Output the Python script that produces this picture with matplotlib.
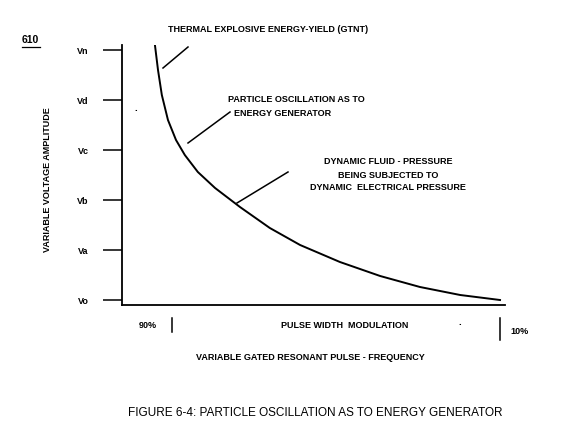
import matplotlib
matplotlib.use("Agg")
import matplotlib.pyplot as plt
from matplotlib.lines import Line2D

plt.rcParams['font.family'] = ['Liberation Sans', 'DejaVu Sans']

W, H = 583, 426

# y tick levels and names
level_values = [0, 1, 2, 3, 4, 5]
level_names = ['Vo', 'Va', 'Vb', 'Vc', 'Vd', 'Vn']

# curve (x: % along pulse axis, y: voltage level)
curve_x = [8.6, 9.4, 10.4, 12.0, 14.1, 16.4, 19.8, 24.3, 30.8, 38.6,
           46.5, 56.9, 67.4, 77.8, 88.3, 98.7]
curve_y = [5.1, 4.6, 4.1, 3.6, 3.2, 2.9, 2.56, 2.24, 1.86, 1.44,
           1.1, 0.76, 0.48, 0.26, 0.1, 0.0]


def fx(px):
    return px / W


def fy(py):
    return 1 - py / H


fig = plt.figure(figsize=(W / 100, H / 100), dpi=100)
ax = fig.add_axes([fx(122), fy(305), (505 - 122) / W, (305 - 45) / H])
ax.plot(curve_x, curve_y, color='black', lw=1.4)
ax.set_xlim(0, 100)
ax.set_ylim(-0.1, 5.1)
for s in ['top', 'right']:
    ax.spines[s].set_visible(False)
ax.spines['left'].set_linewidth(1.3)
ax.spines['bottom'].set_linewidth(1.3)
ax.set_xticks([])
ax.set_yticks(level_values)
ax.set_yticklabels(level_names, fontsize=6.5, fontweight='semibold')
ax.tick_params(axis='y', length=14, width=1.1, pad=10)

fs = 6.5


def txt(x, y, s, **kw):
    kw.setdefault('fontsize', fs)
    kw.setdefault('fontweight', 'semibold')
    fig.text(fx(x), fy(y), s, va='center', **kw)


def seg(x0, y0, x1, y1, lw=1.1):
    fig.add_artist(Line2D([fx(x0), fx(x1)], [fy(y0), fy(y1)], color='black', lw=lw))


txt(22, 40, '610', fontsize=7.5, fontweight='bold')
seg(22, 47, 40, 47, lw=0.9)
txt(168, 30, 'THERMAL EXPLOSIVE ENERGY-YIELD (GTNT)')
seg(163, 68, 188, 47)
txt(228, 100, 'PARTICLE OSCILLATION AS TO')
txt(283, 113, 'ENERGY GENERATOR', ha='center')
seg(188, 143, 230, 112)
txt(388, 162, 'DYNAMIC FLUID - PRESSURE', ha='center')
txt(388, 175, 'BEING SUBJECTED TO', ha='center')
txt(388, 188, 'DYNAMIC  ELECTRICAL PRESSURE', ha='center')
seg(237, 203, 288, 172)
txt(48, 180, 'VARIABLE VOLTAGE AMPLITUDE', rotation=90, ha='center')
txt(134, 108, '.', fontsize=7)

txt(148, 325, '90%', ha='center')
seg(172, 318, 172, 332)
txt(345, 326, 'PULSE WIDTH  MODULATION', ha='center')
txt(458, 322, '.', fontsize=7)
seg(500, 318, 500, 340)
txt(520, 332, '10%', ha='center')
txt(310, 357, 'VARIABLE GATED RESONANT PULSE - FREQUENCY', ha='center')
txt(315, 413, 'FIGURE 6-4: PARTICLE OSCILLATION AS TO ENERGY GENERATOR',
    ha='center', fontsize=8.5, fontweight='normal')

fig.savefig('out.png', dpi=100)
